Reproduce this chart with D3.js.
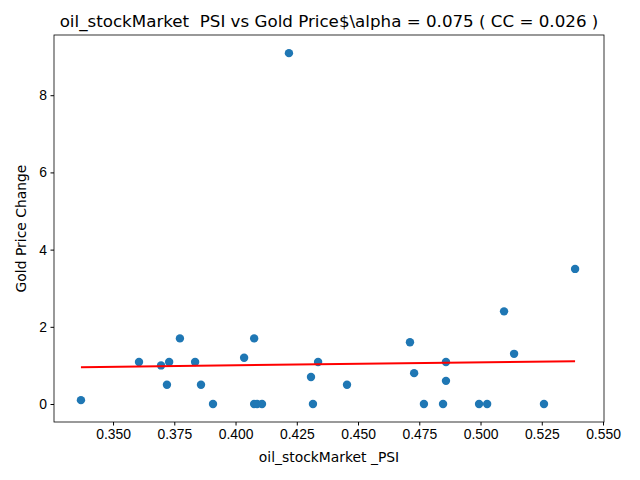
<!DOCTYPE html>
<html><head><meta charset="utf-8">
<script src="https://cdn.jsdelivr.net/npm/d3@7"></script>
<style>body{margin:0;background:#fff}svg{font-family:"DejaVu Sans",sans-serif}text{white-space:pre}</style>
</head><body>
<svg id="chart" width="640" height="480"></svg>
<script>
var psi = [0.3369,0.3606,0.3696,0.3720,0.3729,0.3773,0.3835,0.3859,0.3908,0.4035,0.4076,0.4076,0.4088,0.4108,0.4218,0.4308,0.4316,0.4337,0.4455,0.4712,0.4729,0.4769,0.4847,0.4859,0.4859,0.4994,0.5027,0.5096,0.5137,0.5259,0.5386];
var gold = [0.1,1.09,1.0,0.5,1.09,1.7,1.09,0.5,0,1.2,1.7,0,0,0,9.09,0.7,0,1.09,0.5,1.6,0.8,0,0,1.09,0.6,0,0,2.4,1.3,0,3.5];
var fitX = [0.3369,0.5386];
var fitY = [0.955,1.11];
var xTicks = [0.350,0.375,0.400,0.425,0.450,0.475,0.500,0.525,0.550];
var yTicks = [0,2,4,6,8];

var svg = d3.select('#chart');
var L=54,R=604,T=35,B=422;
var x = d3.scaleLinear().domain([0.3259,0.5504]).range([L,R]);
var y = d3.scaleLinear().domain([-0.466,9.56]).range([B,T]);

svg.append('g').attr('transform','translate(0,'+B+')')
	.call(d3.axisBottom(x).tickValues(xTicks).tickFormat(d3.format('.3f')).tickSizeOuter(0).tickSize(3.5).tickPadding(3.5))
	.call(function(g){g.select('.domain').remove();g.selectAll('text').attr('font-size',13.9).attr('fill','#000');g.selectAll('line').attr('stroke','#000');});
svg.append('g').attr('transform','translate('+L+',0)')
	.call(d3.axisLeft(y).tickValues(yTicks).tickSizeOuter(0).tickSize(3.5).tickPadding(3.5))
	.call(function(g){g.select('.domain').remove();g.selectAll('text').attr('font-size',13.9).attr('fill','#000');g.selectAll('line').attr('stroke','#000');});

svg.selectAll('circle').data(psi).enter().append('circle')
	.attr('cx',function(d){return x(d);})
	.attr('cy',function(d,i){return y(gold[i]);})
	.attr('r',4.2).attr('fill','#1f77b4');

svg.append('path').datum(fitX)
	.attr('d',d3.line().x(function(d){return x(d);}).y(function(d,i){return y(fitY[i]);}))
	.attr('stroke','red').attr('stroke-width',2).attr('fill','none');

svg.append('rect').attr('x',L).attr('y',T).attr('width',R-L).attr('height',B-T)
	.attr('fill','none').attr('stroke','#000').attr('stroke-width',0.8);

svg.append('text').attr('x',(L+R)/2).attr('y',T-8).attr('text-anchor','middle').attr('font-size',16.7)
	.text('oil_stockMarket  PSI vs Gold Price$\\alpha = 0.075 ( CC = 0.026 )');
svg.append('text').attr('x',(L+R)/2).attr('y',462).attr('text-anchor','middle').attr('font-size',13.9)
	.text('oil_stockMarket _PSI');
svg.append('text').attr('transform','translate(26,'+((T+B)/2)+') rotate(-90)').attr('text-anchor','middle').attr('font-size',13.9)
	.text('Gold Price Change');
</script>
</body></html>
